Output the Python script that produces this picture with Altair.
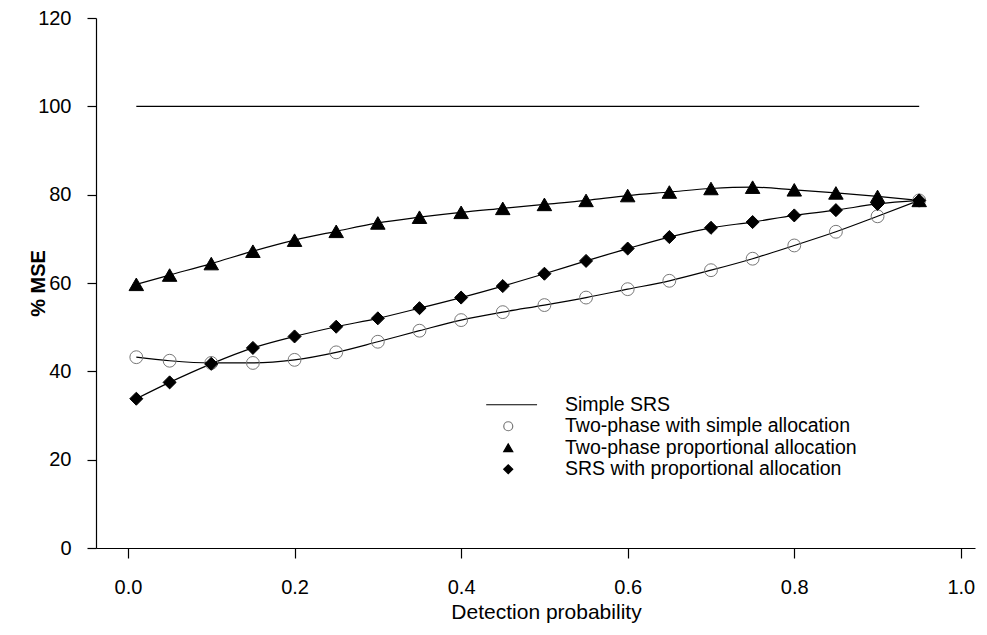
import altair as alt
import pandas as pd

# x positions (detection probability)
detect_p = [0.01, 0.05, 0.10, 0.15, 0.20, 0.25, 0.30, 0.35, 0.40, 0.45,
            0.50, 0.55, 0.60, 0.65, 0.70, 0.75, 0.80, 0.85, 0.90, 0.95]

two_phase_simple = [43.2, 42.4, 41.9, 41.9, 42.6, 44.3, 46.7, 49.2, 51.6, 53.4,
                    55.0, 56.7, 58.6, 60.5, 62.9, 65.5, 68.5, 71.6, 75.1, 78.7]
two_phase_prop = [59.7, 61.8, 64.4, 67.2, 69.7, 71.7, 73.6, 74.9, 76.0, 76.9,
                  77.8, 78.7, 79.8, 80.6, 81.4, 81.7, 81.1, 80.4, 79.6, 78.7]
srs_prop = [33.8, 37.5, 41.7, 45.3, 47.9, 50.1, 52.0, 54.3, 56.7, 59.3,
            62.1, 65.0, 67.8, 70.4, 72.5, 73.8, 75.3, 76.5, 77.9, 78.7]

srs_x = [0.01, 0.95]
srs_y = [100, 100]

series_names = ["Simple SRS", "Two-phase with simple allocation",
                "Two-phase proportional allocation", "SRS with proportional allocation"]

x_ticks = [0.0, 0.2, 0.4, 0.6, 0.8, 1.0]
y_ticks = [0, 20, 40, 60, 80, 100, 120]

rows = []
for name, vals in [(series_names[1], two_phase_simple),
                   (series_names[2], two_phase_prop),
                   (series_names[3], srs_prop)]:
    for x, y in zip(detect_p, vals):
        rows.append({"p": x, "mse": y, "series": name})
df = pd.DataFrame(rows)
df_srs = pd.DataFrame({"p": srs_x, "mse": srs_y, "series": series_names[0]})

FONT = "Liberation Sans"

xscale = alt.Scale(domain=[-0.0384, 1.017], nice=False, zero=False)
yscale = alt.Scale(domain=[0, 120], nice=False)

xenc = alt.X("p:Q", scale=xscale,
             axis=alt.Axis(values=x_ticks, format=".1f", title="Detection probability",
                           tickSize=10, labelPadding=19, labelFontSize=20,
                           titleFontSize=21, titleFontWeight="normal",
                           titleX=450, titleY=70, titleBaseline="alphabetic",
                           titleAlign="center"))
yenc = alt.Y("mse:Q", scale=yscale,
             axis=alt.Axis(values=y_ticks, title="% MSE", tickSize=9, labelPadding=16,
                           labelFontSize=20, titleFontSize=20, titleFontWeight="bold",
                           titleX=-58, titleY=265, titleAngle=-90,
                           titleBaseline="middle", titleAlign="center"))

line_path = "M-4.9,0H6.4"
shape_scale = alt.Scale(domain=series_names,
                        range=[line_path, "circle", "triangle-up", "diamond"])
fill_scale = alt.Scale(domain=series_names,
                       range=["transparent", "transparent", "black", "black"])
stroke_scale = alt.Scale(domain=series_names,
                         range=["black", "#777777", "black", "black"])

legend = alt.Legend(title=None, orient="none", legendX=402.5, legendY=377,
                    labelFontSize=19.5, labelFont=FONT, labelColor="black",
                    symbolSize=81, labelOffset=47, rowPadding=0.5, padding=0,
                    symbolStrokeWidth=1.2, symbolOpacity=1, labelLimit=400)

lines = alt.Chart(df).mark_line(color="black", strokeWidth=1.2,
                                interpolate="monotone").encode(
    x=xenc, y=yenc, detail="series:N")

srs_line = alt.Chart(df_srs).mark_line(color="black", strokeWidth=1.2).encode(
    x=xenc, y=yenc)


def pts(name, size):
    return alt.Chart(df).transform_filter(
        alt.datum.series == name
    ).mark_point(size=size, opacity=1, strokeWidth=1).encode(
        x=xenc, y=yenc,
        shape=alt.Shape("series:N", scale=shape_scale, legend=legend),
        fill=alt.Fill("series:N", scale=fill_scale, legend=legend),
        stroke=alt.Stroke("series:N", scale=stroke_scale, legend=legend),
    )


chart = alt.layer(
    srs_line, lines,
    pts(series_names[1], 165),
    pts(series_names[2], 210),
    pts(series_names[3], 170),
).properties(
    width=879, height=530,
    autosize=alt.AutoSizeParams(type="none"),
    padding={"left": 88, "top": 10, "right": 4, "bottom": 76},
).configure_axis(
    grid=False, domainColor="black", tickColor="black", domainWidth=1.2,
    tickWidth=1.2, labelColor="black", titleColor="black",
    labelFont=FONT, titleFont=FONT,
).configure_view(strokeWidth=0)

chart.save("out.html", embed_options={"renderer": "svg", "actions": False})
